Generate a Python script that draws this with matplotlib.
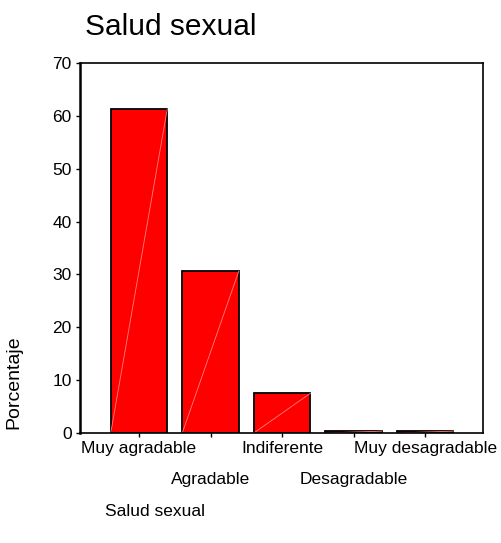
import numpy as np
import matplotlib.pyplot as plt

plt.rcParams['font.family'] = ['Liberation Sans', 'DejaVu Sans']

categories = ['Muy agradable', 'Agradable', 'Indiferente', 'Desagradable', 'Muy desagradable']
porcentaje = [61.3, 30.6, 7.5, 0.35, 0.35]
yticks = [0, 10, 20, 30, 40, 50, 60, 70]

fig = plt.figure(figsize=(5.01, 5.43), dpi=100)
ax = fig.add_axes([80 / 501, 1 - 433 / 543, 403 / 501, 370 / 543])

x = np.arange(len(categories))
width = 0.79
ax.bar(x, porcentaje, width, color='#ff0000', edgecolor='black', linewidth=1.3)
# faint diagonal line across each bar
for xi, h in zip(x, porcentaje):
    ax.plot([xi - width / 2, xi + width / 2], [0, h], color='#ff8080', linewidth=0.6)

ax.set_xlim(-0.825, 4.81)
ax.set_ylim(0, 70)
ax.set_yticks(yticks)
ax.set_yticklabels([str(t) for t in yticks], fontsize=12.5)
ax.set_xticks(x)
ax.set_xticklabels(categories, fontsize=12.5)
ax.tick_params(axis='both', direction='out', length=3, width=1)
ax.tick_params(axis='y', pad=3)
# alternate the category labels on two rows
for i, t in enumerate(ax.xaxis.get_major_ticks()):
    t.set_pad(3 if i % 2 == 0 else 25)
for s in ax.spines.values():
    s.set_linewidth(1.2)
ax.spines['left'].set_linewidth(1.8)

ax.set_ylabel('Porcentaje', fontsize=14)
ax.yaxis.set_label_coords(-0.142, 0.138)

fig.text(85 / 501, 1 - 27 / 543, 'Salud sexual', fontsize=21.5, va='center', ha='left')
fig.text(105 / 501, 1 - 512 / 543, 'Salud sexual', fontsize=12.5, va='center', ha='left')

fig.savefig('out.png', dpi=100)
